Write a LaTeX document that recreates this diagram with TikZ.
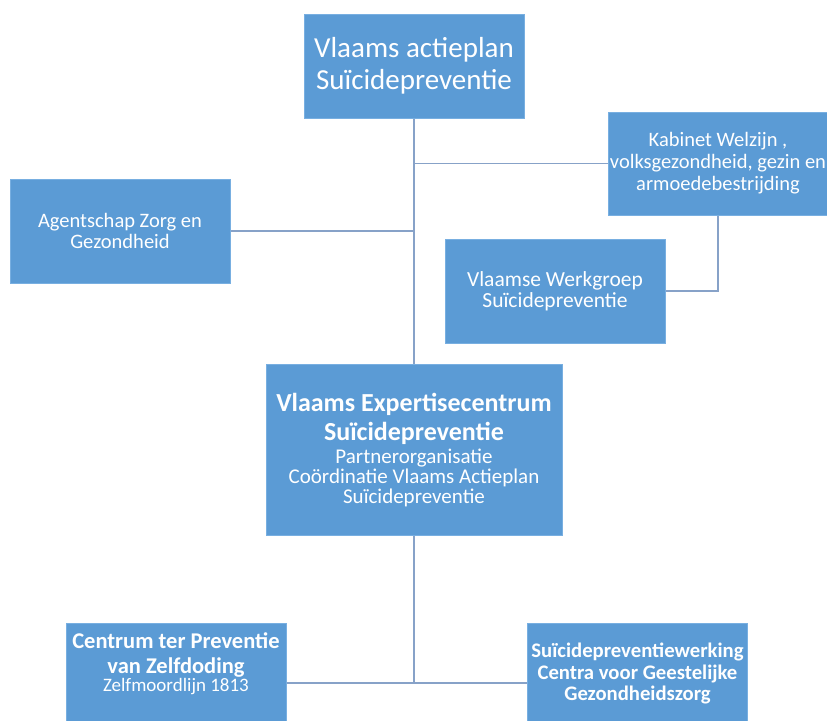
\documentclass[tikz,border=0pt]{standalone}
\usepackage{fontspec}
\setmainfont{Carlito}
\definecolor{boxblue}{RGB}{91,155,213}
\definecolor{boxedge}{RGB}{120,175,225}
\definecolor{linkblue}{RGB}{135,162,200}
\tikzset{
  orgbox/.style={draw=boxedge, line width=1pt, fill=boxblue, minimum width=220pt, inner sep=0pt, text=white, align=center},
  orgtext/.style={text=white, align=center, inner sep=0pt},
  link/.style={draw=linkblue, line width=1.6pt}
}
\begin{document}
\begin{tikzpicture}[x=1pt,y=-1pt]
\useasboundingbox (0,0) rectangle (827,720);
% boxes
\node[orgbox, minimum height=104pt, font=\fontsize{29}{32}\selectfont] (plan) at (414,66) {Vlaams actieplan\\Suïcidepreventie};
\node[orgbox, minimum height=103pt, font=\fontsize{20.5}{22}\selectfont] (kab) at (718,163.5) {Kabinet Welzijn ,\\volksgezondheid, gezin en\\armoedebestrijding};
\node[orgbox, minimum height=104pt, font=\fontsize{20.5}{21}\selectfont] (agz) at (120,231) {Agentschap Zorg en\\Gezondheid};
\node[orgbox, minimum height=104pt, font=\fontsize{21.5}{21}\selectfont] (vws) at (555,291) {Vlaamse Werkgroep\\Suïcidepreventie};
\node[orgbox, minimum width=296pt, minimum height=171pt] (vesp) at (414,449.5) {};
\node[orgtext, font=\fontsize{21}{20}\selectfont] (vesptxt) at (414,450) {{\fontsize{26}{20}\selectfont\bfseries Vlaams Expertisecentrum}\\[6pt]
  {\fontsize{26}{20}\selectfont\bfseries Suïcidepreventie}\\[3pt]
  Partnerorganisatie\\
  Coördinatie Vlaams Actieplan\\
  Suïcidepreventie};
\node[orgbox, minimum height=120pt] (cpz) at (176,683) {};
\node[orgtext, font=\fontsize{19}{18}\selectfont] (cpztxt) at (176,664) {{\fontsize{22.5}{18}\selectfont\bfseries Centrum ter Preventie}\\[7pt]
  {\fontsize{22.5}{18}\selectfont\bfseries van Zelfdoding}\\
  Zelfmoordlijn 1813};
\node[orgbox, minimum height=120pt] (cgg) at (637.5,683) {};
\node[orgtext, font=\fontsize{20.7}{21.5}\selectfont\bfseries] (cggtxt) at (637.5,673.5) {Suïcidepreventiewerking\\Centra voor Geestelijke\\Gezondheidszorg};
% connectors
\coordinate (j1) at (plan.south |- kab.west);
\coordinate (j2) at (plan.south |- agz.east);
\coordinate (j3) at (kab.south |- vws.east);
\coordinate (j4) at (vesp.south |- cpz.east);
\draw[link] (plan.south) -- (vesp.north);
\draw[link] (j1) -- (kab.west);
\draw[link] (agz.east) -- (j2);
\draw[link] (kab.south) -- (j3) -- (vws.east);
\draw[link] (vesp.south) -- (j4);
\draw[link] (cpz.east |- j4) -- (cgg.west |- j4);
\end{tikzpicture}
\end{document}
